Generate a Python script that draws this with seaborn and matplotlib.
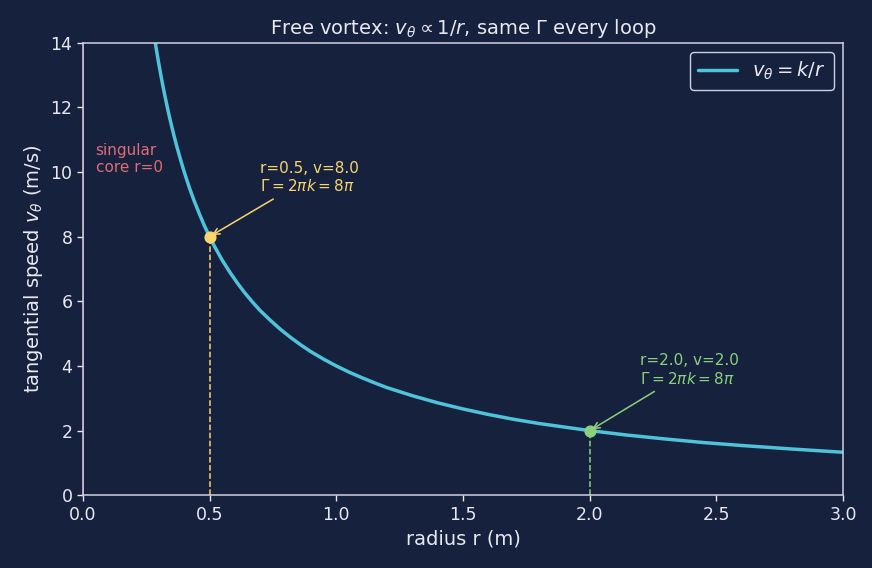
import numpy as np
import pandas as pd
import matplotlib
matplotlib.use('Agg')
import matplotlib.pyplot as plt
import seaborn as sns

radius = [0.28, 0.29, 0.30, 0.31, 0.32, 0.33, 0.34, 0.35, 0.36, 0.37, 0.38, 0.39,
          0.40, 0.42, 0.44, 0.46, 0.48, 0.50, 0.52, 0.55, 0.58, 0.61, 0.64, 0.67,
          0.70, 0.74, 0.78, 0.82, 0.86, 0.90, 0.95, 1.00, 1.05, 1.10, 1.15, 1.20,
          1.30, 1.40, 1.50, 1.60, 1.70, 1.80, 1.90, 2.00, 2.15, 2.30, 2.45, 2.60,
          2.80, 3.00]
speed = [14.29, 13.79, 13.33, 12.90, 12.50, 12.12, 11.76, 11.43, 11.11, 10.81, 10.53, 10.26,
         10.00, 9.52, 9.09, 8.70, 8.33, 8.00, 7.69, 7.27, 6.90, 6.56, 6.25, 5.97,
         5.71, 5.41, 5.13, 4.88, 4.65, 4.44, 4.21, 4.00, 3.81, 3.64, 3.48, 3.33,
         3.08, 2.86, 2.67, 2.50, 2.35, 2.22, 2.11, 2.00, 1.86, 1.74, 1.63, 1.54,
         1.43, 1.33]

marked_r = [0.5, 2.0]
marked_v = [8.0, 2.0]
marked_colors = ['#f9d56e', '#8bd17c']
marked_labels = ['r=0.5, v=8.0\n$\\Gamma = 2\\pi k = 8\\pi$',
                 'r=2.0, v=2.0\n$\\Gamma = 2\\pi k = 8\\pi$']
label_pos = [(0.70, 9.4), (2.20, 3.45)]

bg = '#16213e'
fg = '#e8e8f0'
sns.set_style('dark')
plt.rcParams['font.family'] = ['DejaVu Sans']

fig, ax = plt.subplots(figsize=(8.72, 5.68), dpi=100)
fig.patch.set_facecolor(bg)
ax.set_facecolor(bg)

df = pd.DataFrame({'r': radius, 'v': speed})
sns.lineplot(data=df, x='r', y='v', ax=ax, color='#4fc3d9', linewidth=2.5,
             label='$v_\\theta = k/r$')

ax.axvline(0, color='#e06c75', linewidth=1.2)

for r, v, c, txt, pos in zip(marked_r, marked_v, marked_colors, marked_labels, label_pos):
    ax.plot([r, r], [0, v], linestyle='--', color=c, linewidth=1.1)
    ax.scatter([r], [v], color=c, s=60, zorder=5)
    ax.annotate(txt, xy=(r, v), xytext=pos, color=c, fontsize=11,
                arrowprops=dict(arrowstyle='->', color=c, lw=1.1))

ax.text(0.05, 10.0, 'singular\ncore r=0', color='#e06c75', fontsize=11)

ax.set_xlim(0, 3.0)
ax.set_ylim(0, 14)
ax.set_xticks([0, 0.5, 1.0, 1.5, 2.0, 2.5, 3.0])
ax.set_yticks([0, 2, 4, 6, 8, 10, 12, 14])
ax.set_title('Free vortex: $v_\\theta \\propto 1/r$, same $\\Gamma$ every loop', color=fg, fontsize=14)
ax.set_xlabel('radius r (m)', color=fg, fontsize=14)
ax.set_ylabel('tangential speed $v_\\theta$ (m/s)', color=fg, fontsize=14)
ax.tick_params(colors=fg, labelsize=12.5, length=4, width=1, bottom=True, left=True)
ax.grid(False)
for s in ax.spines.values():
    s.set_visible(True)
    s.set_color('#d0d0e0')
    s.set_linewidth(1.1)

leg = ax.legend(loc='upper right', facecolor=bg, edgecolor='#d0d0e0', fontsize=14,
                framealpha=1, handlelength=2.0)
for t in leg.get_texts():
    t.set_color(fg)

plt.subplots_adjust(left=0.095, right=0.967, top=0.925, bottom=0.128)
fig.savefig('out.png', dpi=100, facecolor=bg)
